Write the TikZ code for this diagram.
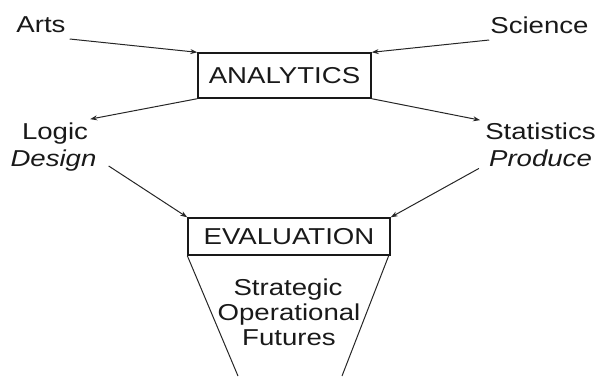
\documentclass[tikz,border=0pt]{standalone}
\usepackage{fontspec}
\setmainfont{Liberation Sans}
\usetikzlibrary{arrows.meta}
\newcommand\sxt[1]{\scalebox{1.2}[1]{#1}}
\begin{document}
\begin{tikzpicture}[x=1pt,y=-1pt,
  lbl/.style={font=\fontsize{23}{27}\selectfont, inner sep=0pt, anchor=base, text=black!90},
  boxnode/.style={draw=black!90, line width=1.4pt, inner sep=0pt, font=\fontsize{23}{27}\selectfont, text=black!90},
  conn/.style={line width=1pt, draw=black!85, -{Stealth[length=7pt,width=5pt]}},
  edge/.style={line width=1pt, draw=black!85}]
\useasboundingbox (0,0) rectangle (598,376);
\node[lbl] (arts) at (41,32) {\sxt{Arts}};
\node[lbl] (science) at (539.5,33) {\sxt{Science}};
\node[boxnode, minimum width=173pt, minimum height=45pt] (analytics) at (284.5,75.5) {\sxt{ANALYTICS}};
\node[lbl] (logic) at (55,139) {\sxt{Logic}};
\node[lbl] (design) at (53.5,166) {\sxt{\itshape Design}};
\node[lbl] (stat) at (540.5,139) {\sxt{Statistics}};
\node[lbl] (produce) at (540.5,166) {\sxt{\itshape Produce}};
\node[boxnode, minimum width=202pt, minimum height=37pt] (evaluation) at (289,236.5) {\sxt{EVALUATION}};
\node[lbl] (strategic) at (288,295) {\sxt{Strategic}};
\node[lbl] (operational) at (289,320) {\sxt{Operational}};
\node[lbl] (futures) at (289,345) {\sxt{Futures}};
\coordinate (fl) at (238,376);
\coordinate (fr) at (342,376);
\draw[conn] ([xshift=4pt,yshift=-7pt]arts.base east) -- (analytics.north west);
\draw[conn] ([xshift=-1pt,yshift=-7pt]science.base west) -- (analytics.north east);
\draw[conn] (analytics.south west) -- ([xshift=2pt,yshift=3pt]logic.north east);
\draw[conn] (analytics.south east) -- ([xshift=-5pt,yshift=2pt]stat.north west);
\draw[conn] ([xshift=12pt,yshift=5pt]design.south east) -- (evaluation.north west);
\draw[conn] ([xshift=-10pt,yshift=-2pt]produce.south west) -- (evaluation.north east);
\draw[edge] (evaluation.south west) -- (fl);
\draw[edge] ([xshift=-2pt]evaluation.south east) -- (fr);
\end{tikzpicture}
\end{document}
